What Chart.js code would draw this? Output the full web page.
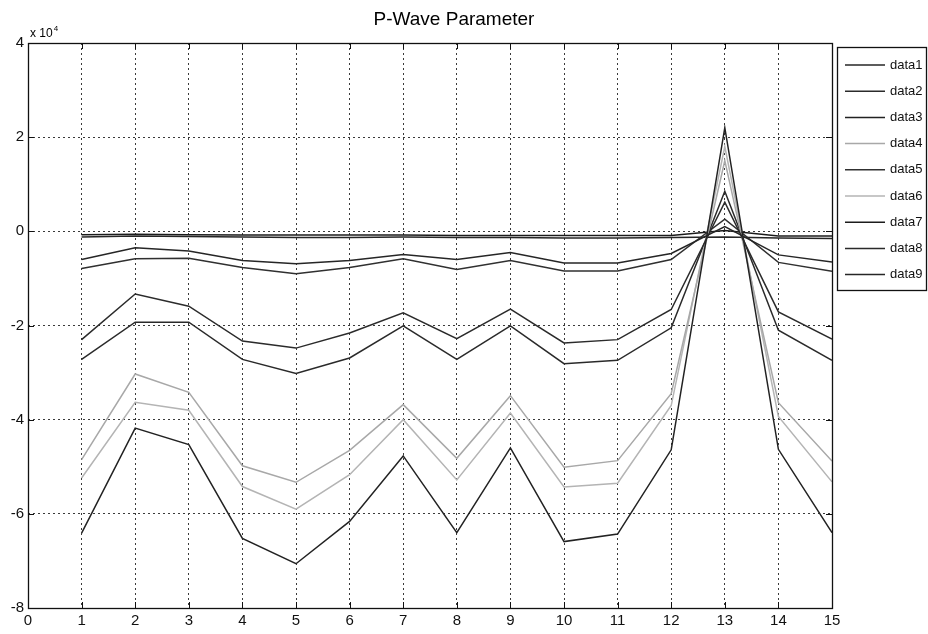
<!DOCTYPE html>
<html>
<head>
<meta charset="utf-8">
<script src="https://cdn.jsdelivr.net/npm/chart.js@4.4.1/dist/chart.umd.min.js"></script>
<style>
  html, body { margin: 0; padding: 0; background: #fff; }
  #wrap { width: 928px; height: 634px; position: relative; }
</style>
</head>
<body>
<div id="wrap"><canvas id="pwave"></canvas></div>
<script>
// values (y in raw units, axis shows x 10^4)
const xValues = [1, 2, 3, 4, 5, 6, 7, 8, 9, 10, 11, 12, 13, 14, 15];
const yTicks = [-80000, -60000, -40000, -20000, 0, 20000, 40000];
const seriesLabels = ['data1', 'data2', 'data3', 'data4', 'data5', 'data6', 'data7', 'data8', 'data9'];
const chartTitle = 'P-Wave Parameter';

const data1 = [-6000, -3500, -4200, -6200, -6900, -6200, -4900, -6000, -4500, -6700, -6700, -4700, 1000, -5000, -6500];
const data2 = [-23000, -13300, -15900, -23300, -24800, -21600, -17300, -22800, -16500, -23700, -23000, -16600, 6200, -17100, -22900];
const data3 = [-64100, -41800, -45300, -65200, -70600, -61600, -47700, -64000, -46000, -65900, -64300, -46400, 22000, -46300, -64000];
const data4 = [-48500, -30300, -34200, -49800, -53300, -46500, -36800, -48200, -34900, -50100, -48700, -34500, 15000, -36400, -48800];
const data5 = [-7900, -5800, -5700, -7700, -9000, -7700, -5800, -8100, -6200, -8400, -8400, -6000, 2600, -6600, -8500];
const data6 = [-52400, -36300, -38000, -54200, -59000, -51700, -40000, -52800, -38600, -54300, -53500, -37000, 18000, -39300, -53200];
const data7 = [-700, -600, -700, -800, -800, -800, -800, -900, -900, -900, -900, -900, 200, -1000, -1000];
const data8 = [-27200, -19300, -19300, -27200, -30200, -26900, -20100, -27200, -20100, -28100, -27400, -20500, 8500, -21000, -27400];
const data9 = [-1200, -1000, -1100, -1200, -1300, -1300, -1200, -1300, -1300, -1400, -1400, -1300, -1200, -1400, -1500];

const allSeries = [data1, data2, data3, data4, data5, data6, data7, data8, data9];
const lineColors = ['#262626', '#2b2b2b', '#222222', '#a8a8a8', '#303030', '#b4b4b4', '#1c1c1c', '#2a2a2a', '#262626'];

const fontFam = '"Liberation Sans", Arial, sans-serif';

const datasets = allSeries.map((arr, i) => ({
    label: seriesLabels[i],
    data: xValues.map((x, j) => ({ x: x, y: arr[j] })),
    borderColor: lineColors[i],
    backgroundColor: lineColors[i],
    borderWidth: 1.5,
    pointRadius: 0,
    fill: false,
    tension: 0
}));

// box, inward ticks, title, exponent and legend, matlab style
const matlabDecor = {
    id: 'matlabDecor',
    afterDraw(chart) {
        const { ctx, chartArea: a, scales: { x, y } } = chart;
        ctx.save();
        ctx.strokeStyle = '#111';
        ctx.lineWidth = 1;
        ctx.beginPath();
        xValues.forEach(v => {
            const px = Math.round(x.getPixelForValue(v)) + 0.5;
            ctx.moveTo(px, a.bottom); ctx.lineTo(px, a.bottom - 6);
            ctx.moveTo(px, a.top); ctx.lineTo(px, a.top + 6);
        });
        yTicks.forEach(v => {
            const py = Math.round(y.getPixelForValue(v)) + 0.5;
            ctx.moveTo(a.left, py); ctx.lineTo(a.left + 6, py);
            ctx.moveTo(a.right, py); ctx.lineTo(a.right - 6, py);
        });
        ctx.stroke();

        ctx.lineWidth = 1.3;
        ctx.strokeRect(Math.round(a.left) + 0.5, Math.round(a.top) + 0.5,
            Math.round(a.right - a.left), Math.round(a.bottom - a.top));

        // title
        ctx.fillStyle = '#000';
        ctx.font = '19px ' + fontFam;
        ctx.textAlign = 'center';
        ctx.textBaseline = 'alphabetic';
        ctx.fillText(chartTitle, 454, 25);

        // exponent
        ctx.textAlign = 'left';
        ctx.font = '12px ' + fontFam;
        ctx.fillText('x 10', 30, 37);
        const w = ctx.measureText('x 10').width;
        ctx.font = '8px ' + fontFam;
        ctx.fillText('4', 30 + w + 1, 31);

        // legend
        const lx = 837, ly = 47, lw = 89, lh = 243;
        ctx.fillStyle = '#fff';
        ctx.fillRect(lx, ly, lw, lh);
        ctx.lineWidth = 1.3;
        ctx.strokeStyle = '#111';
        ctx.strokeRect(lx + 0.5, ly + 0.5, lw, lh);
        ctx.font = '13px ' + fontFam;
        ctx.textBaseline = 'middle';
        chart.data.datasets.forEach((ds, i) => {
            const cy = 65 + i * 26.2;
            ctx.strokeStyle = ds.borderColor;
            ctx.lineWidth = 1.5;
            ctx.beginPath();
            ctx.moveTo(845, cy); ctx.lineTo(885, cy);
            ctx.stroke();
            ctx.fillStyle = '#111';
            ctx.fillText(ds.label, 890, cy);
        });
        ctx.restore();
    }
};

const edgeColor = (ctx, lo, hi) => (ctx.tick && (ctx.tick.value === lo || ctx.tick.value === hi)) ? 'rgba(0,0,0,0)' : '#3a3a3a';

new Chart(document.getElementById('pwave').getContext('2d'), {
    type: 'line',
    data: { datasets: datasets },
    options: {
        responsive: true,
        maintainAspectRatio: false,
        animation: false,
        layout: { padding: { top: 43, right: 96, left: 0, bottom: 0 } },
        plugins: {
            legend: { display: false },
            title: { display: false },
            tooltip: { enabled: false }
        },
        scales: {
            x: {
                type: 'linear',
                min: 0,
                max: 15,
                afterFit: s => { s.height = 26; },
                ticks: {
                    stepSize: 1,
                    autoSkip: false,
                    maxRotation: 0,
                    padding: 4,
                    color: '#111',
                    font: { family: fontFam, size: 15 }
                },
                grid: {
                    drawTicks: false,
                    lineWidth: 1,
                    color: ctx => edgeColor(ctx, 0, 15)
                },
                border: { display: false, dash: [2, 3] }
            },
            y: {
                type: 'linear',
                min: -80000,
                max: 40000,
                afterFit: s => { s.width = 28; },
                afterBuildTicks: s => { s.ticks = yTicks.map(v => ({ value: v })); },
                ticks: {
                    padding: 4,
                    color: '#111',
                    font: { family: fontFam, size: 15 },
                    callback: v => String(v / 10000)
                },
                grid: {
                    drawTicks: false,
                    lineWidth: 1,
                    color: ctx => edgeColor(ctx, -80000, 40000)
                },
                border: { display: false, dash: [2, 3] }
            }
        }
    },
    plugins: [matlabDecor]
});
</script>
</body>
</html>
